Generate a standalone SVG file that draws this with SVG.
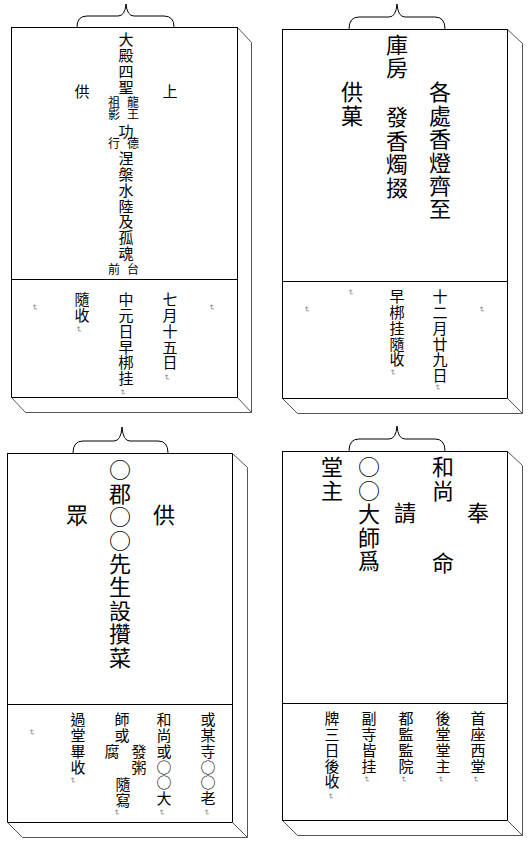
<svg xmlns="http://www.w3.org/2000/svg" width="529" height="841" viewBox="0 0 529 841">
<style>
.front{fill:#fff;stroke:#000;stroke-width:1}
.side{fill:none;stroke:#555;stroke-width:1}
.div{stroke:#000;stroke-width:1}
.brace{fill:none;stroke:#000;stroke-width:1}
text{font-family:"Noto Sans CJK TC","Noto Sans CJK SC",sans-serif;fill:#000;writing-mode:vertical-rl}
.t22{font-size:22px;letter-spacing:1.4px}
.t15{font-size:15px;letter-spacing:0.8px}
.t11{font-size:12px;letter-spacing:0px}
.pm{font-size:8px;fill:#888}
</style>
<rect width="529" height="841" fill="#fff"/>
<g id="panel1">
<rect class="front" x="11.5" y="27.5" width="226" height="370"/>
<polyline class="side" points="237.5,27.5 251.5,42.5 251.5,412.5 25.5,412.5 11.5,397.5"/>
<line class="side" x1="237.5" y1="397.5" x2="251.5" y2="412.5"/>
<line class="div" x1="11" y1="279.5" x2="237" y2="279.5"/>
<path class="brace" d="M77,27 Q77,16 87,16 L118,16 Q125,16 126,4 Q127,16 134,16 L164,16 Q174,16 174,27"/>
<text class="t15" x="126" y="32">大殿四聖</text>
<text class="t11" x="114" y="96">祖影</text>
<text class="t11" x="133" y="96">龍王</text>
<text class="t15" x="126" y="124">功</text>
<text class="t11" x="114" y="137">行</text>
<text class="t11" x="133" y="137">德</text>
<text class="t15" x="126" y="151">涅槃水陸及孤魂</text>
<text class="t11" x="114" y="263">前</text>
<text class="t11" x="133" y="263">台</text>
<text class="t15" x="82" y="84">供</text>
<text class="t15" x="170" y="84">上</text>
<text class="t15" x="82" y="292">隨收</text>
<text class="t15" x="126" y="292">中元日早梆挂</text>
<text class="t15" x="170" y="292">七月十五日</text>
<text class="pm" x="35" y="304">↵</text>
<text class="pm" x="212" y="304">↵</text>
<text class="pm" x="79" y="326">↵</text>
<text class="pm" x="123" y="389">↵</text>
<text class="pm" x="167" y="374">↵</text>
</g>
<g id="panel2">
<rect class="front" x="282.5" y="29.5" width="225" height="369"/>
<polyline class="side" points="507.5,29.5 522.5,43.5 522.5,413.5 297.5,413.5 282.5,398.5"/>
<line class="side" x1="507.5" y1="398.5" x2="522.5" y2="413.5"/>
<line class="div" x1="282" y1="281.5" x2="507" y2="281.5"/>
<path class="brace" d="M349,29 Q349,17 359,17 L389,17 Q396,17 397,4 Q398,17 405,17 L435,17 Q445,17 445,29"/>
<text class="t22" x="397" y="34" style="letter-spacing:0.5px">庫房</text>
<text class="t22" x="440" y="81">各處香燈齊至</text>
<text class="t22" x="352" y="81">供菓</text>
<text class="t22" x="397" y="106">發香燭掇</text>
<text class="t15" x="397" y="289">早梆挂隨收</text>
<text class="t15" x="440" y="289">十二月廿九日</text>
<text class="pm" x="307" y="306">↵</text>
<text class="pm" x="351" y="289">↵</text>
<text class="pm" x="482" y="306">↵</text>
<text class="pm" x="393" y="369">↵</text>
<text class="pm" x="438" y="384">↵</text>
</g>
<g id="panel3">
<rect class="front" x="7.5" y="453.5" width="225" height="369"/>
<polyline class="side" points="232.5,453.5 247.5,467.5 247.5,837.5 22.5,837.5 7.5,822.5"/>
<line class="side" x1="232.5" y1="822.5" x2="247.5" y2="837.5"/>
<line class="div" x1="7" y1="704.5" x2="232" y2="704.5"/>
<path class="brace" d="M73,453 Q73,441 83,441 L114,441 Q121,441 122,427 Q123,441 130,441 L158,441 Q168,441 168,453"/>
<text class="t22" x="120" y="459">○郡○○先生設攢菜</text>
<text class="t22" x="77" y="504">眾</text>
<text class="t22" x="164" y="504">供</text>
<text class="t15" x="78" y="712">過堂畢收</text>
<text class="t15" x="122" y="712">師或</text>
<text class="t15" x="112" y="744">腐</text>
<text class="t15" x="139" y="744">發粥</text>
<text class="t15" x="123" y="777">隨寫</text>
<text class="t15" x="164" y="712">和尚或○○大</text>
<text class="t15" x="208" y="712">或某寺○○老</text>
<text class="pm" x="32" y="729">↵</text>
<text class="pm" x="73" y="777">↵</text>
<text class="pm" x="117" y="809">↵</text>
<text class="pm" x="162" y="809">↵</text>
<text class="pm" x="207" y="809">↵</text>
</g>
<g id="panel4">
<rect class="front" x="282.5" y="451.5" width="225" height="369"/>
<polyline class="side" points="507.5,451.5 522.5,465.5 522.5,835.5 297.5,835.5 282.5,820.5"/>
<line class="side" x1="507.5" y1="820.5" x2="522.5" y2="835.5"/>
<line class="div" x1="282" y1="703.5" x2="507" y2="703.5"/>
<path class="brace" d="M349,451 Q349,439 359,439 L389,439 Q396,439 397,426 Q398,439 405,439 L435,439 Q445,439 445,451"/>
<text class="t22" x="332" y="456">堂主</text>
<text class="t22" x="369" y="456">○○大師爲</text>
<text class="t22" x="405" y="502">請</text>
<text class="t22" x="443" y="456">和尚</text>
<text class="t22" x="443" y="552">命</text>
<text class="t22" x="478" y="502">奉</text>
<text class="t15" x="332" y="711">牌三日後收</text>
<text class="t15" x="369" y="711">副寺皆挂</text>
<text class="t15" x="406" y="711">都監監院</text>
<text class="t15" x="443" y="711">後堂堂主</text>
<text class="t15" x="478" y="711">首座西堂</text>
<text class="pm" x="331" y="793">↵</text>
<text class="pm" x="367" y="776">↵</text>
<text class="pm" x="404" y="776">↵</text>
<text class="pm" x="441" y="776">↵</text>
<text class="pm" x="476" y="776">↵</text>
</g>
</svg>
